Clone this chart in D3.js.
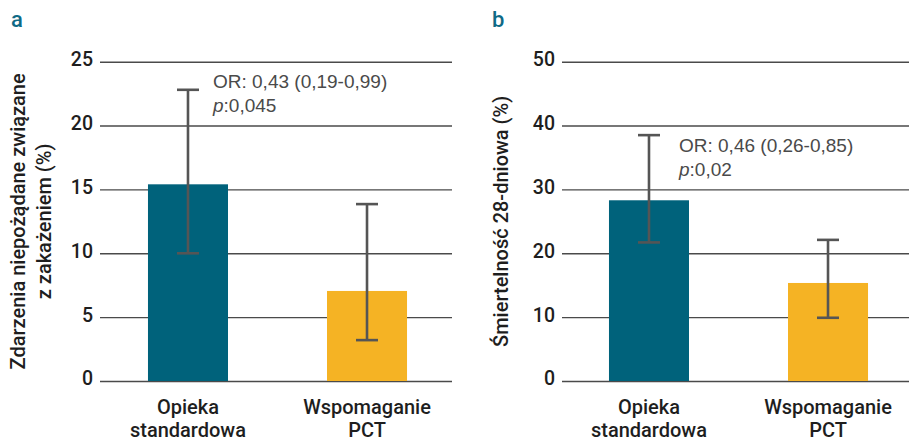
<!DOCTYPE html>
<html>
<head>
<meta charset="utf-8">
<script src="https://cdn.jsdelivr.net/npm/d3@7/dist/d3.min.js"></script>
<style>
  body { margin: 0; background: #fff; }
  svg text { font-family: Roboto, "Liberation Sans", Arial, sans-serif; font-weight: 500; }
  svg text.note { font-family: "Liberation Sans", Arial, sans-serif; font-weight: normal; }
</style>
</head>
<body>
<script>
// categories shared by both panels
let categories = [["Opieka", "standardowa"], ["Wspomaganie", "PCT"]];
let barColors = ["#00627b", "#f5b324"];

// panel a
let aValues = [15.4, 7.05];
let aLow = [10.0, 3.2];
let aHigh = [22.8, 13.85];
let aTicks = [0, 5, 10, 15, 20, 25];
let aTitle = ["Zdarzenia niepożądane związane", "z zakażeniem (%)"];
let aNote = ["OR: 0,43 (0,19-0,99)", ":0,045"];

// panel b
let bValues = [28.3, 15.35];
let bLow = [21.7, 9.9];
let bHigh = [38.5, 22.1];
let bTicks = [0, 10, 20, 30, 40, 50];
let bTitle = ["Śmiertelność 28-dniowa (%)"];
let bNote = ["OR: 0,46 (0,26-0,85)", ":0,02"];

let width = 909, height = 444;

let svg = d3.select("body").append("svg")
    .attr("width", width)
    .attr("height", height);

let drawPanel = (opts) => {
    let g = svg.append("g");

    let y = d3.scaleLinear()
        .domain([0, d3.max(opts.ticks)])
        .range([381, 61.7]);

    let x = d3.scaleBand()
        .domain([0, 1])
        .range(opts.bandRange)
        .paddingInner(0.553)
        .paddingOuter(0.268);

    // panel letter
    g.append("text")
        .attr("x", opts.letterX)
        .attr("y", 27)
        .attr("fill", "#0f6a86")
        .attr("font-size", 22)
        .attr("font-weight", "bold")
        .text(opts.letter);

    // gridlines + tick labels
    let axis = d3.axisLeft(y)
        .tickValues(opts.ticks)
        .tickSize(-(opts.gridEnd - opts.x0))
        .tickPadding(7)
        .tickFormat(d3.format("d"));

    let ax = g.append("g")
        .attr("transform", `translate(${opts.x0},0)`)
        .call(axis);
    ax.select(".domain").remove();
    ax.selectAll(".tick line")
        .attr("stroke", "#4a4a4a")
        .attr("stroke-width", 1.4);
    ax.selectAll(".tick text")
        .attr("fill", "#1e1e1e")
        .attr("font-size", 19.5)
        .attr("dy", "0.2em");

    // bars
    g.append("g").selectAll("rect")
        .data(opts.values)
        .enter()
        .append("rect")
        .attr("x", (d, i) => x(i))
        .attr("width", x.bandwidth())
        .attr("y", d => y(d))
        .attr("height", d => y(0) - y(d))
        .attr("fill", (d, i) => barColors[i]);

    // error bars
    let eb = g.append("g")
        .attr("stroke", "#555")
        .attr("stroke-width", 2.6)
        .attr("fill", "none");
    opts.values.forEach((v, i) => {
        let cx = x(i) + x.bandwidth() / 2;
        eb.append("line")
            .attr("x1", cx).attr("x2", cx)
            .attr("y1", y(opts.high[i])).attr("y2", y(opts.low[i]));
        [opts.high[i], opts.low[i]].forEach(e => {
            eb.append("line")
                .attr("x1", cx - 11).attr("x2", cx + 11)
                .attr("y1", y(e)).attr("y2", y(e));
        });
    });

    // category labels
    categories.forEach((c, i) => {
        let t = g.append("text")
            .attr("x", x(i) + x.bandwidth() / 2)
            .attr("y", 414)
            .attr("text-anchor", "middle")
            .attr("fill", "#1e1e1e")
            .attr("font-size", 20);
        c.forEach((line, j) => {
            t.append("tspan")
                .attr("x", x(i) + x.bandwidth() / 2)
                .attr("dy", j == 0 ? 0 : 23)
                .text(line);
        });
    });

    // y title (rotated)
    let cy = (y(0) + y(d3.max(opts.ticks))) / 2;
    opts.title.forEach((line, j) => {
        g.append("text")
            .attr("transform", `translate(${opts.titleX[j]},${cy}) rotate(-90)`)
            .attr("text-anchor", "middle")
            .attr("fill", "#1e1e1e")
            .attr("font-size", 20)
            .text(line);
    });

    // OR annotation
    let note = g.append("g").attr("fill", "#4a4a4a").attr("font-size", 19);
    note.append("text")
        .attr("class", "note")
        .attr("x", opts.noteX)
        .attr("y", opts.noteY)
        .text(opts.note[0]);
    let p = note.append("text")
        .attr("class", "note")
        .attr("x", opts.noteX)
        .attr("y", opts.noteY + 24);
    p.append("tspan").attr("font-style", "italic").text("p");
    p.append("tspan").text(opts.note[1]);
};

drawPanel({
    letter: "a", letterX: 11,
    x0: 100, gridEnd: 452, bandRange: [100, 455],
    ticks: aTicks, values: aValues, low: aLow, high: aHigh,
    title: aTitle, titleX: [25, 51],
    note: aNote, noteX: 213, noteY: 88
});

drawPanel({
    letter: "b", letterX: 492,
    x0: 562, gridEnd: 909, bandRange: [561, 916],
    ticks: bTicks, values: bValues, low: bLow, high: bHigh,
    title: bTitle, titleX: [508],
    note: bNote, noteX: 679, noteY: 152
});
</script>
</body>
</html>
